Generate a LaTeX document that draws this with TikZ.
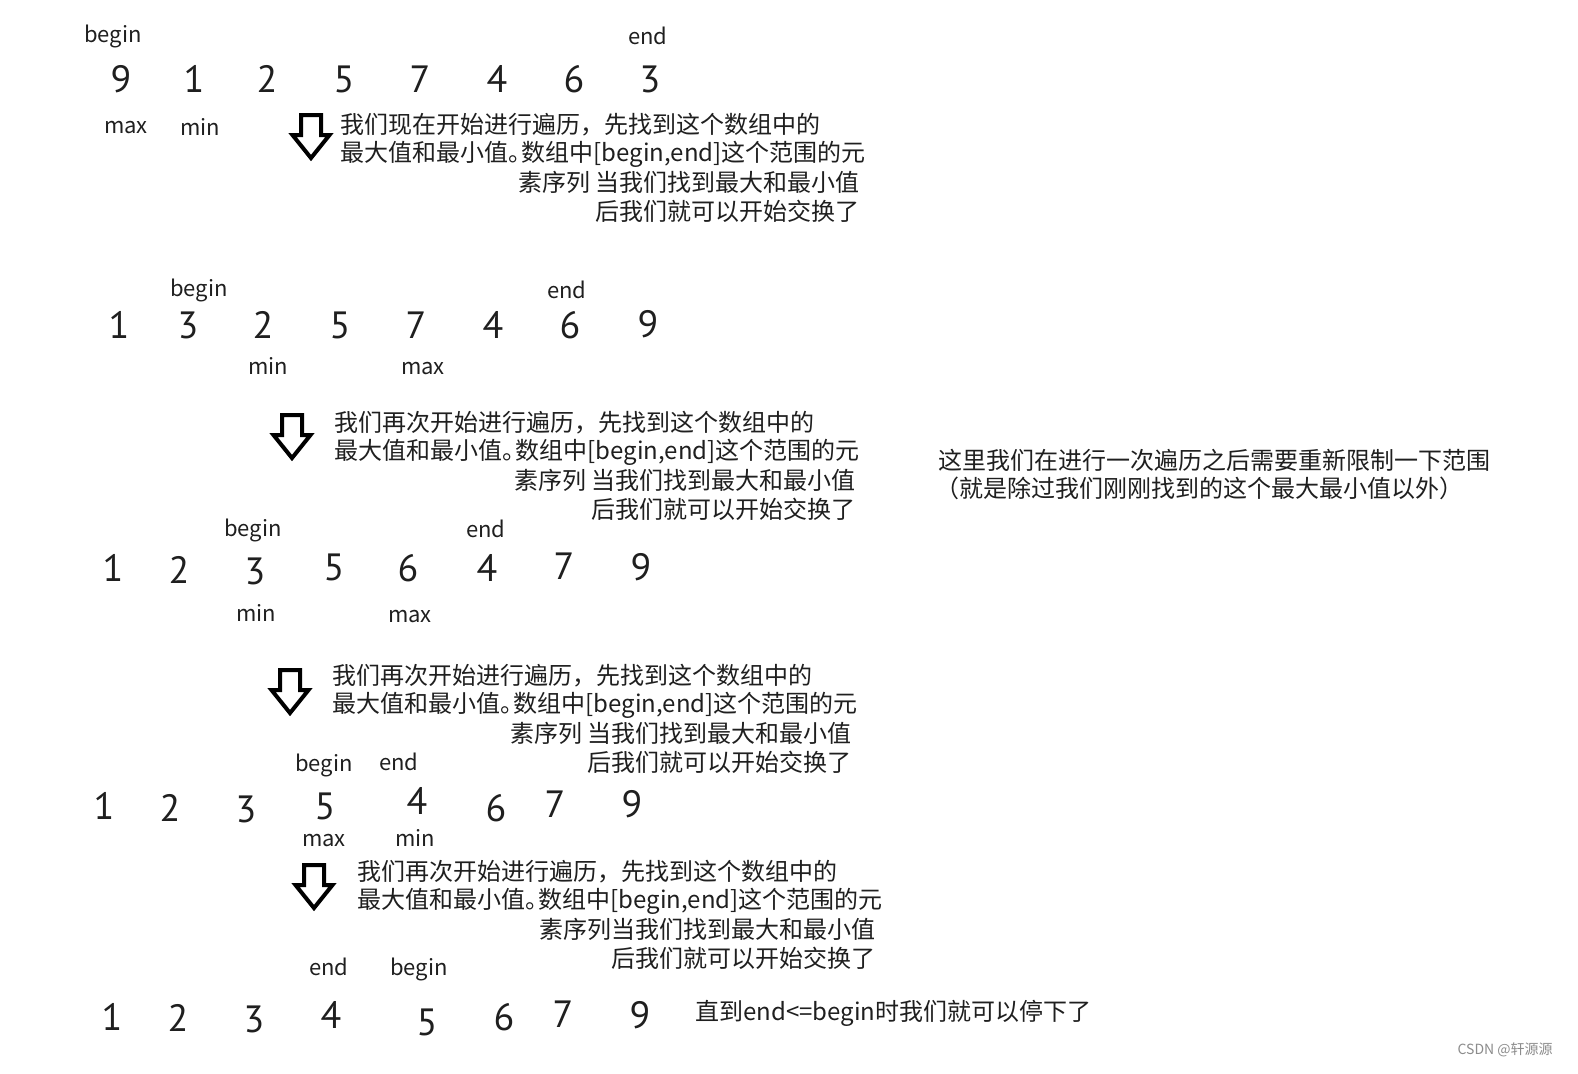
\documentclass[tikz,border=0pt]{standalone}
\usepackage{fontspec}
\setmainfont{Noto Sans CJK SC}
\newfontfamily\numfont{PT Sans}
\usetikzlibrary{positioning}

\begin{document}
\begin{tikzpicture}[x=0.5pt,y=-0.5pt,every node/.style={inner sep=0pt,text=black!88}]
    \tikzstyle{num}=[font=\numfont\fontsize{19}{22}\selectfont]
    \tikzstyle{ptr}=[font=\fontsize{11}{13}\selectfont]
    \tikzstyle{note}=[font=\fontsize{12}{14}\selectfont]
    \tikzstyle{left line}=[note,anchor=west]
    \tikzstyle{right line}=[note,anchor=east]
    \tikzset{downarrow/.pic={
      \draw[line width=2pt,line join=miter,fill=white]
        (-10,0) -- (10,0) -- (10,20) -- (18.5,20) -- (0,43)
        -- (-18.5,20) -- (-10,20) -- cycle;}}
    % Canvas
    \fill[white] (0,0) rectangle (1578,1073);
    \useasboundingbox (0,0) rectangle (1578,1073);
    % Row 1
    \foreach \x/\y/\v [count=\i] in {121/79/9,194/79/1,267/79/2,344/79/5,420/79/7,497/79/4,574/79/6,650/79/3}
      \node[num] (r1n\i) at (\x,\y) {\v};
    \node[ptr] (r1begin) at (113,36)  {begin};
    \node[ptr] (r1end)   at (648,36)  {end};
    \node[ptr] (r1max)   at (126,128) {max};
    \node[ptr] (r1min)   at (200,127) {min};
    \pic (arrow1) at (311,115) {downarrow};
    \node[left line]  (t1a) at (340,125) {我们现在开始进行遍历，先找到这个数组中的};
    \node[left line]  (t1b) at (340,154) {最大值和最小值。\kern-.45em 数组中[begin,end]这个范围的元};
    \node[right line] (t1c) at (860,182) {素序列 当我们找到最大和最小值};
    \node[right line] (t1d) at (860,211) {后我们就可以开始交换了};
    % Row 2
    \foreach \x/\y/\v [count=\i] in {119/325/1,188/325/3,263/325/2,340/325/5,416/325/7,493/325/4,570/325/6,648/324/9}
      \node[num] (r2n\i) at (\x,\y) {\v};
    \node[ptr] (r2begin) at (199,290) {begin};
    \node[ptr] (r2end)   at (567,290) {end};
    \node[ptr] (r2min)   at (268,366) {min};
    \node[ptr] (r2max)   at (423,369) {max};
    \pic (arrow2) at (292,415) {downarrow};
    \node[left line]  (t2a) at (334,423) {我们再次开始进行遍历，先找到这个数组中的};
    \node[left line]  (t2b) at (334,452) {最大值和最小值。\kern-.45em 数组中[begin,end]这个范围的元};
    \node[right line] (t2c) at (856,480) {素序列 当我们找到最大和最小值};
    \node[right line] (t2d) at (856,509) {后我们就可以开始交换了};
    % Side remark
    \node[left line] (rangeA) at (938,460) {这里我们在进行一次遍历之后需要重新限制一下范围};
    \node[left line] (rangeB) at (935,488) {（就是除过我们刚刚找到的这个最大最小值以外）};
    % Row 3
    \foreach \x/\y/\v [count=\i] in {113/568/1,179/570/2,255/571/3,334/567/5,408/568/6,487/568/4,564/566/7,641/567/9}
      \node[num] (r3n\i) at (\x,\y) {\v};
    \node[ptr] (r3begin) at (253,530) {begin};
    \node[ptr] (r3end)   at (486,529) {end};
    \node[ptr] (r3min)   at (256,613) {min};
    \node[ptr] (r3max)   at (410,616) {max};
    \pic (arrow3) at (290,670) {downarrow};
    \node[left line]  (t3a) at (332,676) {我们再次开始进行遍历，先找到这个数组中的};
    \node[left line]  (t3b) at (332,705) {最大值和最小值。\kern-.45em 数组中[begin,end]这个范围的元};
    \node[right line] (t3c) at (852,733) {素序列 当我们找到最大和最小值};
    \node[right line] (t3d) at (852,762) {后我们就可以开始交换了};
    % Row 4
    \foreach \x/\y/\v [count=\i] in {104/806/1,170/808/2,246/809/3,325/806/5,417/801/4,496/808/6,555/804/7,632/804/9}
      \node[num] (r4n\i) at (\x,\y) {\v};
    \node[ptr] (r4begin) at (324,765) {begin};
    \node[ptr] (r4end)   at (399,762) {end};
    \node[ptr] (r4max)   at (324,840) {max};
    \node[ptr] (r4min)   at (415,838) {min};
    \pic (arrow4) at (314,865) {downarrow};
    \node[left line]  (t4a) at (357,872) {我们再次开始进行遍历，先找到这个数组中的};
    \node[left line]  (t4b) at (357,901) {最大值和最小值。\kern-.45em 数组中[begin,end]这个范围的元};
    \node[right line] (t4c) at (876,929) {素序列当我们找到最大和最小值};
    \node[right line] (t4d) at (876,958) {后我们就可以开始交换了};
    % Row 5
    \foreach \x/\y/\v [count=\i] in {112/1017/1,178/1018/2,254/1019/3,331/1015/4,427/1022/5,504/1017/6,563/1014/7,640/1015/9}
      \node[num] (r5n\i) at (\x,\y) {\v};
    \node[ptr] (r5end)   at (329,967) {end};
    \node[ptr] (r5begin) at (419,969) {begin};
    \node[left line] (stopnote) at (695,1013) {直到end<=begin时我们就可以停下了};
    % Watermark
    \node[anchor=east,font=\fontsize{7}{8}\selectfont,text=black!45] (mark) at (1553,1050) {CSDN @轩源源};
\end{tikzpicture}
\end{document}
